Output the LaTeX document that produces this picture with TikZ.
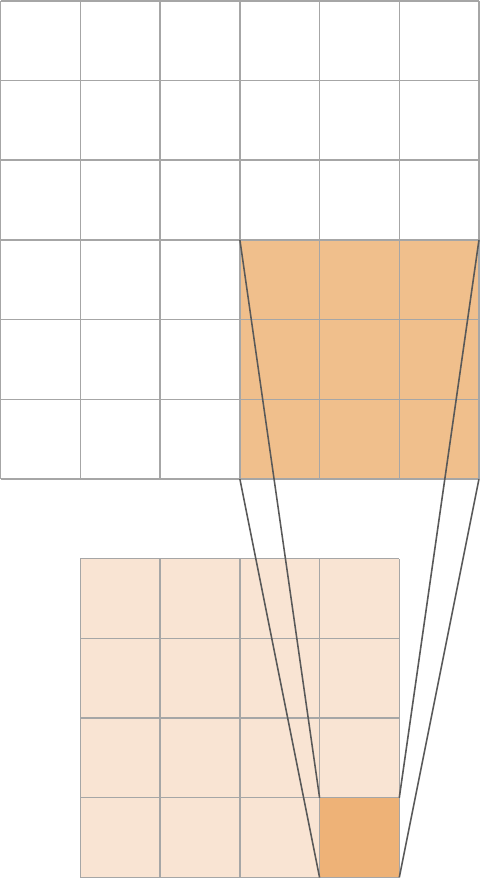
\documentclass[tikz,border=0pt]{standalone}
\usetikzlibrary{positioning}
\definecolor{winfill}{HTML}{F0BF8C}
\definecolor{outfill}{HTML}{F9E4D3}
\definecolor{cellfill}{HTML}{EEB277}
\begin{document}
\begin{tikzpicture}[scale=0.8,
        gridline/.style={gray!70, line width=0.4pt},
        link/.style={black!65, line width=0.45pt}]
        \useasboundingbox (-0.01,0.01) rectangle (6.01,-11.02);
        % input map with window
        \fill [winfill] (3,-3) rectangle (6,-6);
        \draw [gridline, step=1] (0,0) grid (6,-6);
        % output map
        \fill [outfill] (1,-7) rectangle (5,-11);
        \fill [cellfill] (4,-10) rectangle (5,-11);
        \draw [gridline, step=1] (1,-7) grid (5,-11);
        % corners
        \coordinate (win-tl) at (3,-3);
        \coordinate (win-bl) at (3,-6);
        \coordinate (win-tr) at (6,-3);
        \coordinate (win-br) at (6,-6);
        \coordinate (out-tl) at (4,-10);
        \coordinate (out-bl) at (4,-11);
        \coordinate (out-tr) at (5,-10);
        \coordinate (out-br) at (5,-11);
        \draw [link] (win-tl) -- (out-tl);
        \draw [link] (win-bl) -- (out-bl);
        \draw [link] (win-tr) -- (out-tr);
        \draw [link] (win-br) -- (out-br);
      \end{tikzpicture}
\end{document}
